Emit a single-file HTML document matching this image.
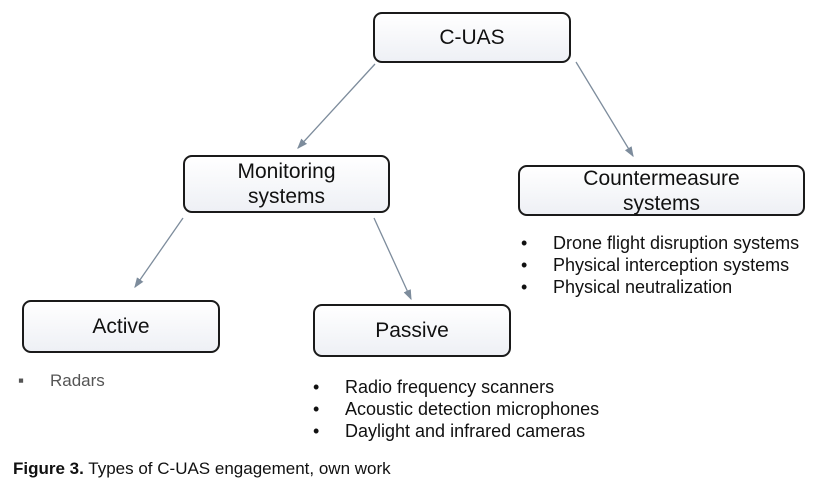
<!DOCTYPE html>
<html><head><style>
body{margin:0;width:823px;height:495px;background:#fff;position:relative;overflow:hidden;font-family:"Liberation Sans",Arial,sans-serif;}
.b{position:absolute;box-sizing:border-box;border:2.5px solid #1a1a1a;border-radius:9px;background:linear-gradient(#fff,#eef0f5);display:flex;align-items:center;justify-content:center;text-align:center;font-size:21px;line-height:25px;color:#111;}
.t{position:absolute;font-size:18px;color:#111;line-height:22px;white-space:nowrap;}
.t span{display:inline-block;width:32px;}
</style></head><body>
<svg width="823" height="495" style="position:absolute;left:0;top:0">
<defs><marker id="a" markerWidth="8" markerHeight="8" refX="7" refY="4" orient="auto"><path d="M0,1 L8,4 L0,7z" fill="#7d8c9c"/></marker></defs>
<g stroke="#7d8c9c" stroke-width="1.3" marker-end="url(#a)">
<line x1="375" y1="64" x2="298" y2="148"/>
<line x1="576" y1="62" x2="633" y2="156"/>
<line x1="183" y1="218" x2="135" y2="287"/>
<line x1="374" y1="218" x2="411" y2="299"/>
</g></svg>
<div class="b" style="left:373px;top:12px;width:198px;height:51px">C-UAS</div>
<div class="b" style="left:183px;top:155px;width:207px;height:58px">Monitoring<br>systems</div>
<div class="b" style="left:518px;top:165px;width:287px;height:51px">Countermeasure<br>systems</div>
<div class="b" style="left:22px;top:300px;width:198px;height:53px">Active</div>
<div class="b" style="left:313px;top:304px;width:198px;height:53px">Passive</div>
<div class="t" style="left:521px;top:232px"><span>•</span>Drone flight disruption systems<br><span>•</span>Physical interception systems<br><span>•</span>Physical neutralization</div>
<div class="t" style="left:18px;top:370px;color:#555;font-size:17px"><span>▪</span>Radars</div>
<div class="t" style="left:313px;top:376px"><span>•</span>Radio frequency scanners<br><span>•</span>Acoustic detection microphones<br><span>•</span>Daylight and infrared cameras</div>
<div style="position:absolute;left:13px;top:459px;font-size:17px;color:#111"><b>Figure 3.</b> Types of C-UAS engagement, own work</div>
</body></html>
